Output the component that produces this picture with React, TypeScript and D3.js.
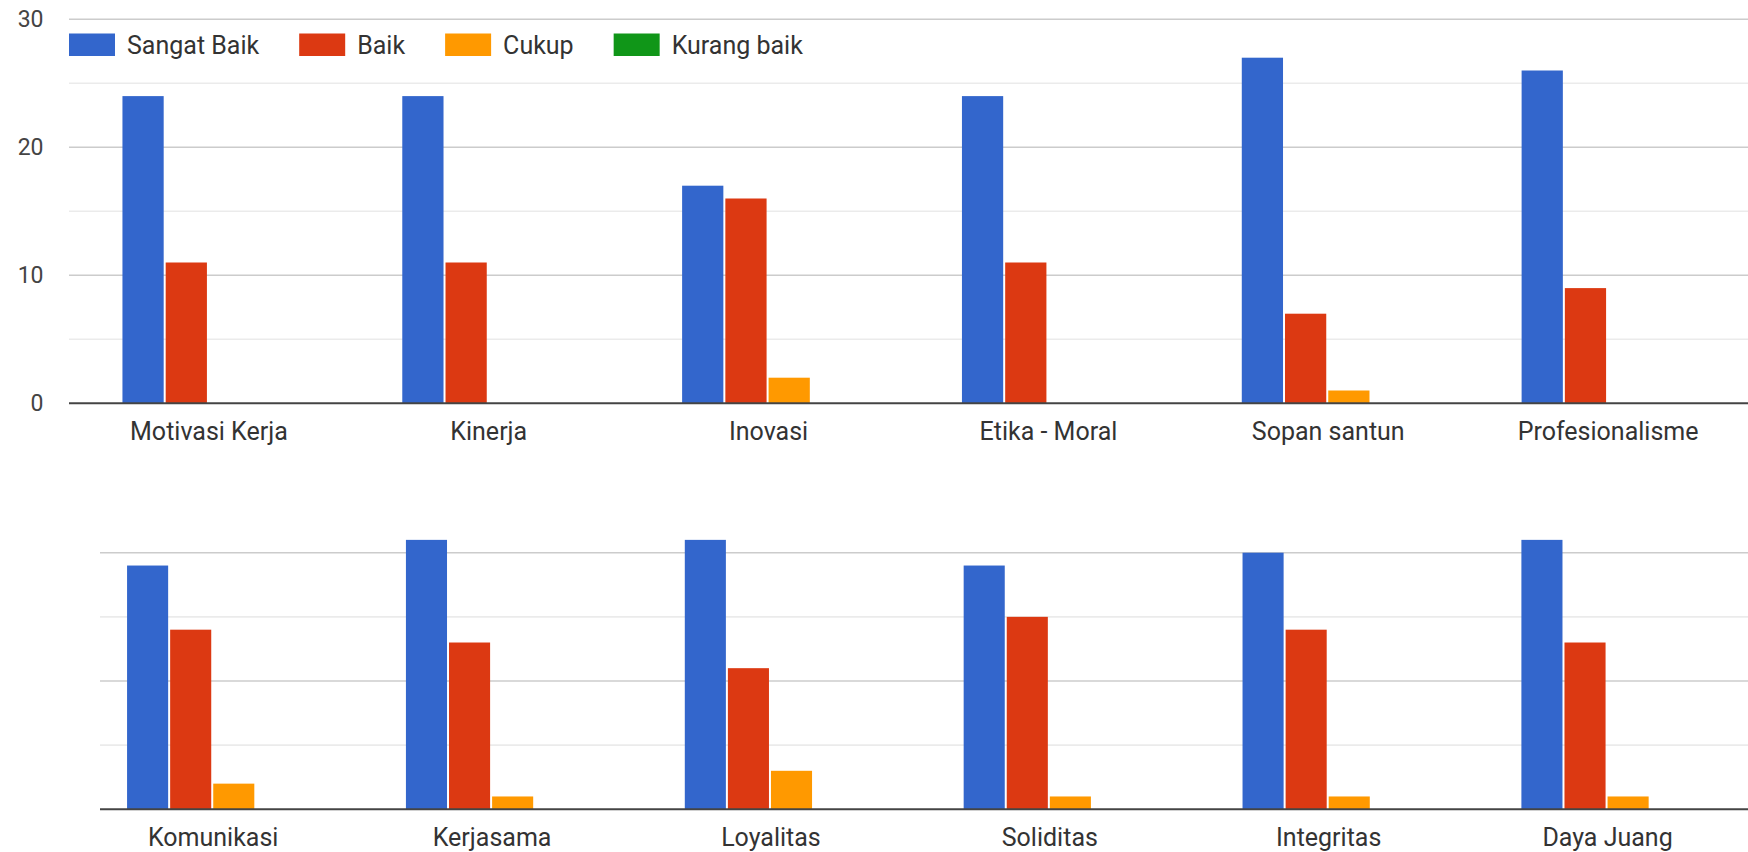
import React, { useMemo } from "react";
import * as d3 from "d3";

// ---- Data ----
const seriesNames = ["Sangat Baik", "Baik", "Cukup", "Kurang baik"];
const seriesColors = ["#3366cc", "#dc3912", "#ff9900", "#109618"];

const topCategories = ["Motivasi Kerja", "Kinerja", "Inovasi", "Etika - Moral", "Sopan santun", "Profesionalisme"];
const topSangatBaik = [24, 24, 17, 24, 27, 26];
const topBaik = [11, 11, 16, 11, 7, 9];
const topCukup = [0, 0, 2, 0, 1, 0];
const topKurangBaik = [0, 0, 0, 0, 0, 0];

const bottomCategories = ["Komunikasi", "Kerjasama", "Loyalitas", "Soliditas", "Integritas", "Daya Juang"];
const bottomSangatBaik = [19, 21, 21, 19, 20, 21];
const bottomBaik = [14, 13, 11, 15, 14, 13];
const bottomCukup = [2, 1, 3, 1, 1, 1];
const bottomKurangBaik = [0, 0, 0, 0, 0, 0];

const topMajorTicks = [0, 10, 20, 30];
const topMinorTicks = [5, 15, 25];
const bottomMajorTicks = [10, 20];
const bottomMinorTicks = [5, 15];

const W = 1748;
const H = 852;
const FONT = "Roboto, Arial, sans-serif";
const LABEL_SIZE = 25;

function measure(text: string, size: number) {
  if (typeof document === "undefined") return text.length * size * 0.5;
  const c = document.createElement("canvas");
  const ctx = c.getContext("2d");
  if (!ctx) return text.length * size * 0.5;
  ctx.font = `${size}px Roboto`;
  return ctx.measureText(text).width;
}

type PanelProps = {
  categories: string[];
  series: number[][];
  x0: number;
  x1: number;
  gridX0: number;
  yBase: number;
  yTop: number;
  domainMax: number;
  major: number[];
  minor: number[];
  showTickLabels: boolean;
};

function Panel(p: PanelProps) {
  const y = d3.scaleLinear().domain([0, p.domainMax]).range([p.yBase, p.yTop]);
  const xb = d3.scaleBand().domain(p.categories).range([p.x0, p.x1]);
  const bw = xb.bandwidth();
  const groupW = bw * 0.618;
  const xi = d3.scaleBand().domain(seriesNames).range([0, groupW]);
  const step = xi.bandwidth();
  return (
    <g>
      {p.minor.map((t) => (
        <line key={"mi" + t} x1={p.gridX0} x2={p.x1 + 2} y1={y(t)} y2={y(t)} stroke="#ebebeb" strokeWidth={1.6} />
      ))}
      {p.major.filter((t) => t !== 0).map((t) => (
        <line key={"ma" + t} x1={p.gridX0} x2={p.x1 + 2} y1={y(t)} y2={y(t)} stroke="#cccccc" strokeWidth={1.6} />
      ))}
      {p.showTickLabels &&
        p.major.map((t) => (
          <text key={"tl" + t} x={43.5} y={y(t)} dy="0.35em" textAnchor="end" fontFamily={FONT} fontSize={23} fill="#444">
            {t}
          </text>
        ))}
      {p.categories.map((c, ci) => {
        const gx = (xb(c) as number) + (bw - groupW) / 2;
        return (
          <g key={c}>
            {seriesNames.map((s, si) => {
              const v = p.series[si][ci];
              if (!v) return null;
              const bx = gx + (xi(s) as number);
              return (
                <rect
                  key={s}
                  x={bx}
                  y={y(v)}
                  width={step - 2}
                  height={p.yBase - y(v)}
                  fill={seriesColors[si]}
                />
              );
            })}
            <text
              x={(xb(c) as number) + bw / 2}
              y={p.yBase + 36.5}
              textAnchor="middle"
              fontFamily={FONT}
              fontSize={LABEL_SIZE}
              fill="#333"
            >
              {c}
            </text>
          </g>
        );
      })}
      <line x1={p.gridX0} x2={p.x1 + 2} y1={p.yBase} y2={p.yBase} stroke="#444" strokeWidth={2} />
    </g>
  );
}

export default function App() {
  const legend = useMemo(() => {
    let x = 69;
    return seriesNames.map((s, i) => {
      const sx = x;
      const tx = sx + 46 + 12;
      const w = measure(s, LABEL_SIZE);
      x = tx + w + 40;
      return { s, sx, tx, color: seriesColors[i] };
    });
  }, []);

  return (
    <svg width={W} height={H} style={{ position: "absolute", left: 0, top: 0, background: "#fff" }}>
      <rect x={0} y={0} width={W} height={H} fill="#fff" />
      <Panel
        categories={topCategories}
        series={[topSangatBaik, topBaik, topCukup, topKurangBaik]}
        x0={69}
        x1={1748}
        gridX0={69}
        yBase={403.3}
        yTop={19.3}
        domainMax={30}
        major={topMajorTicks}
        minor={topMinorTicks}
        showTickLabels={true}
      />
      <Panel
        categories={bottomCategories}
        series={[bottomSangatBaik, bottomBaik, bottomCukup, bottomKurangBaik]}
        x0={73.8}
        x1={1747}
        gridX0={100}
        yBase={809.3}
        yTop={552.7}
        domainMax={20}
        major={bottomMajorTicks}
        minor={bottomMinorTicks}
        showTickLabels={false}
      />
      {legend.map((l) => (
        <g key={l.s}>
          <rect x={l.sx} y={33.5} width={46} height={22.5} fill={l.color} />
          <text x={l.tx} y={44.8} dy="0.35em" fontFamily={FONT} fontSize={LABEL_SIZE} fill="#333">
            {l.s}
          </text>
        </g>
      ))}
    </svg>
  );
}
